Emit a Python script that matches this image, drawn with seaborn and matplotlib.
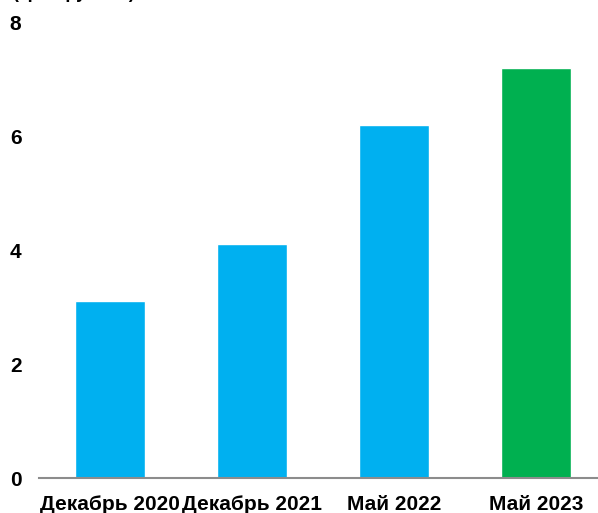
import matplotlib
matplotlib.use("Agg")
import matplotlib.pyplot as plt
import seaborn as sns
import pandas as pd

categories = ["Декабрь 2020", "Декабрь 2021", "Май 2022", "Май 2023"]
values = [3.1, 4.1, 6.2, 7.2]
bar_colors = ["#00B0F0", "#00B0F0", "#00B0F0", "#00B050"]
y_ticks = [0, 2, 4, 6, 8]
unit_label = "(трлн рублей)"

sns.set_theme(style="white")
plt.rcParams["font.family"] = ["Liberation Sans", "DejaVu Sans"]

W, H = 598, 513
fig = plt.figure(figsize=(W / 100, H / 100), dpi=100)
# axes span: x from 39px to 607px (runs past the right edge), y from 478px (0) to 22px (8)
ax = fig.add_axes([39 / W, (H - 478) / H, 568 / W, 456 / H])

df = pd.DataFrame({"period": categories, "value": values})
sns.barplot(data=df, x="period", y="value", hue="period", palette=bar_colors,
            width=0.49, legend=False, ax=ax, saturation=1)

ax.set_xlim(-0.5, 3.5)
ax.set_ylim(0, 8)
ax.set_yticks(y_ticks)
ax.set_yticklabels([str(t) for t in y_ticks], fontsize=15, fontweight="bold",
                   color="black", ha="left")
ax.tick_params(axis="y", length=0, pad=21)
ax.tick_params(axis="x", length=0, pad=12)
for lbl in ax.get_xticklabels():
    lbl.set_fontsize(15)
    lbl.set_fontweight("bold")
    lbl.set_color("black")
ax.set_xlabel("")
ax.set_ylabel("")

for side in ["top", "right", "left"]:
    ax.spines[side].set_visible(False)
ax.spines["bottom"].set_color("#8c8c8c")
ax.spines["bottom"].set_linewidth(1.5)

# unit caption sits mostly above the top edge; only its lower part shows
fig.text(13 / W, 1 + 2 / H, unit_label, fontsize=13, fontweight="bold",
         ha="left", va="baseline", color="black")

fig.savefig("out.png", dpi=100)
